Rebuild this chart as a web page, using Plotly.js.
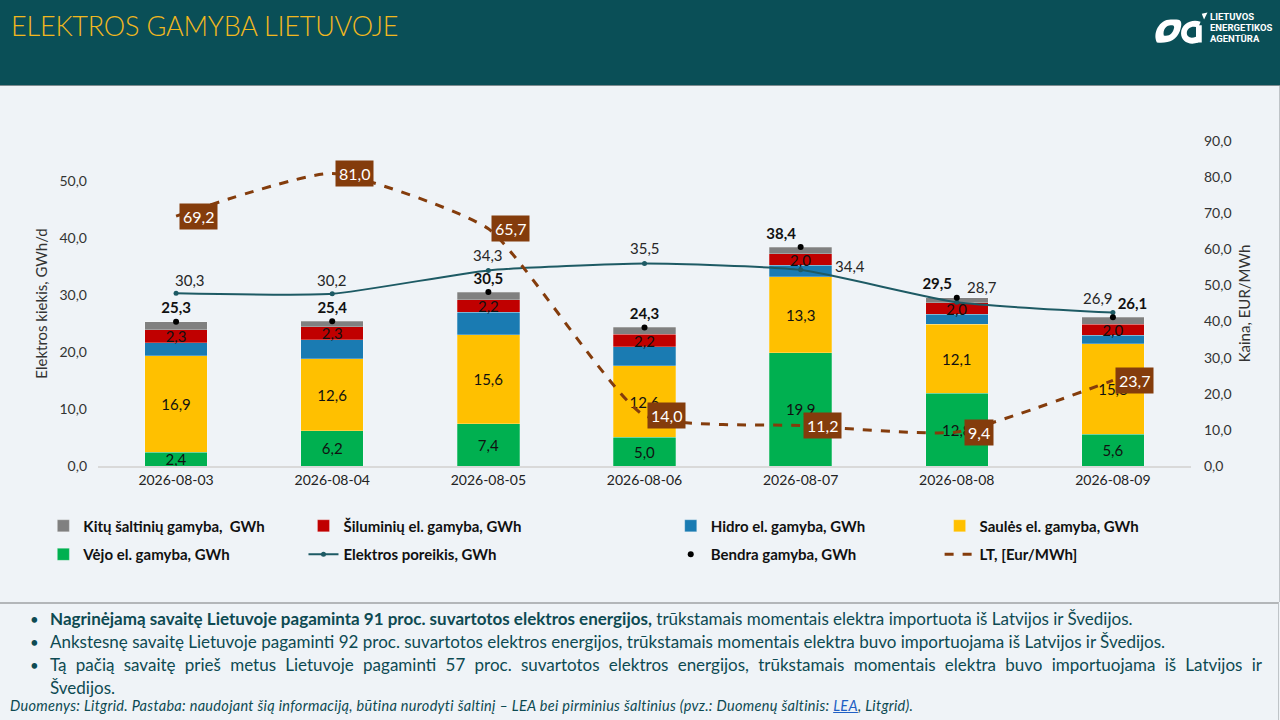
<!DOCTYPE html>
<html>
<head>
<meta charset="utf-8">
<script src="https://cdn.plot.ly/plotly-3.0.1.min.js"></script>
<style>
  body { margin: 0; width: 1280px; height: 720px; overflow: hidden; background: #eff3f7; font-family: Lato, "Noto Sans", sans-serif; }
  #header { position: absolute; left: 0; top: 0; width: 1280px; height: 85px; background: #0a4f57; border-bottom: 1px solid #7d8c90; }
  #title { position: absolute; left: 11px; top: 9px; font-size: 27px; font-weight: 300; color: #f2b81e; letter-spacing: -0.2px; }
  #logo { position: absolute; left: 1150px; top: 6px; }
  #chart { position: absolute; left: 0; top: 86px; width: 1279px; height: 516px; border-right: 1px solid #bfc4c8; }
  #notes { position: absolute; left: 0; top: 602px; width: 1278px; height: 116px; border-top: 2px solid #b3b6b9; border-bottom: 1px solid #b3b6b9; border-right: 1px solid #bfc4c8; color: #0d4a52; }
  .b { position: absolute; left: 30px; width: 1232px; font-size: 17px; line-height: 22.5px; }
  .b span.dot { position: absolute; left: 0; font-size: 15px; }
  .b div.t { margin-left: 20px; }
  .j { text-align: justify; text-align-last: justify; }
  #foot { position: absolute; left: 10px; top: 93px; font-size: 14.5px; font-style: italic; color: #0d4a52; letter-spacing: 0.3px; }
  #foot a { color: #1f5fc4; }
</style>
</head>
<body>
<div id="header">
  <div id="title">ELEKTROS GAMYBA LIETUVOJE</div>
  <svg id="logo" width="128" height="44">
    <g transform="translate(0,2) scale(1.15)">
      <path d="M6 30 C2 22 8 10 18 10 L23 10 C28 10 28 14 26 20 C23 28 16 31 6 30 Z M12 24 C17 25 20 22 21 17 C21 15 20 15 18 15 C14 15 11 19 12 24 Z" fill="#fff" fill-rule="evenodd"/>
      <path d="M44 12 C36 9 27 14 27 22 C27 29 34 33 42 30 L40 25 C35 27 32 25 32 22 C32 17 37 15 42 17 Z" fill="#fff"/>
      <rect x="40" y="15" width="5" height="15" fill="#fff"/>
      <path d="M45 5 L50 4 L47 10 Z" fill="#fff"/>
    </g>
    <text x="60" y="14" fill="#fff" font-size="9.5" font-weight="bold" font-family="Roboto">LIETUVOS</text>
    <text x="60" y="25" fill="#fff" font-size="9.5" font-weight="bold" font-family="Roboto">ENERGETIKOS</text>
    <text x="60" y="36" fill="#fff" font-size="9.5" font-weight="bold" font-family="Roboto">AGENTŪRA</text>
  </svg>
</div>
<div id="chart"></div>
<div id="notes">
  <div class="b" style="top:4px"><span class="dot">•</span><div class="t"><b>Nagrinėjamą savaitę Lietuvoje pagaminta 91 proc. suvartotos elektros energijos,</b> trūkstamais momentais elektra importuota iš Latvijos ir Švedijos.</div></div>
  <div class="b" style="top:27px"><span class="dot">•</span><div class="t">Ankstesnę savaitę Lietuvoje pagaminti 92 proc. suvartotos elektros energijos, trūkstamais momentais elektra buvo importuojama iš Latvijos ir Švedijos.</div></div>
  <div class="b" style="top:50px"><span class="dot">•</span><div class="t j">Tą pačią savaitę prieš metus Lietuvoje pagaminti 57 proc. suvartotos elektros energijos, trūkstamais momentais elektra buvo importuojama iš Latvijos ir</div><div class="t">Švedijos.</div></div>
  <div id="foot">Duomenys: Litgrid. Pastaba: naudojant šią informaciją, būtina nurodyti šaltinį – LEA bei pirminius šaltinius (pvz.: Duomenų šaltinis: <a href="#">LEA</a>, Litgrid).</div>
</div>
<script>
// data
const dates = ['2026-08-03', '2026-08-04', '2026-08-05', '2026-08-06', '2026-08-07', '2026-08-08', '2026-08-09'];
const wind = [2.4, 6.2, 7.4, 5.0, 19.9, 12.8, 5.6];
const solar = [16.9, 12.6, 15.6, 12.6, 13.3, 12.1, 15.8];
const hydro = [2.3, 3.3, 4.0, 3.3, 2.0, 1.7, 1.5];
const thermal = [2.3, 2.3, 2.2, 2.2, 2.0, 2.0, 2.0];
const other = [1.4, 1.0, 1.3, 1.2, 1.2, 0.9, 1.2];
const total = [25.3, 25.4, 30.5, 24.3, 38.4, 29.5, 26.1];
const demand = [30.3, 30.2, 34.3, 35.5, 34.4, 28.7, 26.9];
const price = [69.2, 81.0, 65.7, 14.0, 11.2, 9.4, 23.7];

const FONT = 'Lato, "Noto Sans", sans-serif';
const fmt = v => v.toFixed(1).replace('.', ',');

// label offsets (px) for the demand values
const demandDx = [14, 0, 0, 0, 49, 25, -15];
const demandDy = [13, 14, 15, 16, 4, 15, 15];

// stacked bar helper
function barTrace(name, y, color, legend, rank, showText) {
	return {
		type: 'bar', name: name, x: dates, y: y,
		marker: { color: color, line: { color: 'rgba(255,255,255,0.5)', width: 0.5 } },
		width: 0.4,
		text: showText ? y.map(fmt) : null,
		textposition: showText ? 'inside' : 'none',
		insidetextanchor: 'middle',
		textangle: 0,
		constraintext: 'none',
		textfont: { family: FONT, size: 15, color: '#111' },
		hoverinfo: 'name+y',
		legend: legend, legendrank: rank, legendgroup: name
	};
}

const traces = [
	barTrace('Vėjo el. gamyba, GWh', wind, '#00b050', 'legend', 2, true),
	barTrace('Saulės el. gamyba, GWh', solar, '#ffc000', 'legend4', 1, true),
	barTrace('Hidro el. gamyba, GWh', hydro, '#1a7bb2', 'legend3', 1, false),
	barTrace('Šiluminių el. gamyba, GWh', thermal, '#c00000', 'legend2', 1, true),
	barTrace('Kitų šaltinių gamyba,  GWh', other, '#808080', 'legend', 1, false),
	{
		type: 'scatter', mode: 'lines+markers', name: 'Elektros poreikis, GWh',
		x: dates, y: demand,
		line: { color: '#1d5a64', width: 2, shape: 'spline', smoothing: 0.5 },
		marker: { color: '#1d5a64', size: 5 },
		legend: 'legend2', legendrank: 2, legendgroup: 'poreikis'
	},
	{
		type: 'scatter', mode: 'markers+text', name: 'Bendra gamyba, GWh',
		x: dates, y: total,
		marker: { color: '#000', size: 6 },
		text: total.map(v => '<b>' + fmt(v) + '</b>'),
		textposition: ['top center', 'top center', 'top center', 'top center', 'top left', 'top left', 'top right'],
		textfont: { family: FONT, size: 15, color: '#111' },
		legend: 'legend3', legendrank: 2, legendgroup: 'bendra'
	},
	{
		type: 'scatter', mode: 'lines', name: 'LT, [Eur/MWh]',
		x: dates, y: price, yaxis: 'y2',
		line: { color: '#843c0c', width: 3, dash: 'dash', shape: 'spline', smoothing: 0.5 },
		legend: 'legend4', legendrank: 2, legendgroup: 'lt'
	}
];

const demandNotes = demand.map((d, i) => ({
	x: dates[i], y: d, xref: 'x', yref: 'y',
	xshift: demandDx[i], yshift: demandDy[i],
	text: fmt(d), showarrow: false,
	font: { family: FONT, size: 15, color: '#262626' }
}));

// price labels in brown boxes
const priceNotes = price.map((p, i) => ({
	x: dates[i], y: p, xref: 'x', yref: 'y2', xshift: 22,
	text: fmt(p), showarrow: false,
	bgcolor: '#843c0c', borderpad: 3,
	font: { family: FONT, size: 16, color: '#fff' }
}));

const legendBase = {
	y: -0.134, yanchor: 'top', xanchor: 'left',
	bgcolor: 'rgba(0,0,0,0)', traceorder: 'grouped', tracegroupgap: 6,
	font: { family: FONT, size: 15, color: '#111', weight: 'bold' }
};

const layout = {
	width: 1279, height: 516,
	margin: { l: 98, r: 88, t: 55, b: 136 },
	paper_bgcolor: '#eff3f7', plot_bgcolor: '#eff3f7',
	barmode: 'stack',
	separators: ', ',
	font: { family: FONT, size: 14, color: '#333' },
	showlegend: true,
	xaxis: {
		type: 'category', showgrid: false, showline: true, linecolor: '#d9d9d9', linewidth: 2,
		ticks: '', tickfont: { family: FONT, size: 14, color: '#222' }, fixedrange: true
	},
	yaxis: {
		range: [0, 57], tickvals: [0, 10, 20, 30, 40, 50], tickformat: '.1f',
		showgrid: false, zeroline: false, ticks: '', ticklabelstandoff: 10,
		tickfont: { family: FONT, size: 14, color: '#333' },
		title: { text: 'Elektros kiekis, GWh/d', font: { family: FONT, size: 15, color: '#333' }, standoff: 8 }
	},
	yaxis2: {
		overlaying: 'y', side: 'right', range: [0, 90], dtick: 10, tickformat: '.1f',
		showgrid: false, zeroline: false, ticks: '', ticklabelstandoff: 12,
		tickfont: { family: FONT, size: 14, color: '#333' },
		title: { text: 'Kaina, EUR/MWh', font: { family: FONT, size: 15, color: '#333' }, standoff: 8 }
	},
	legend: Object.assign({}, legendBase, { x: -0.05 }),
	legend2: Object.assign({}, legendBase, { x: 0.188 }),
	legend3: Object.assign({}, legendBase, { x: 0.524 }),
	legend4: Object.assign({}, legendBase, { x: 0.77 }),
	annotations: demandNotes.concat(priceNotes)
};

Plotly.newPlot('chart', traces, layout, { displayModeBar: false, staticPlot: true });
</script>
</body>
</html>
